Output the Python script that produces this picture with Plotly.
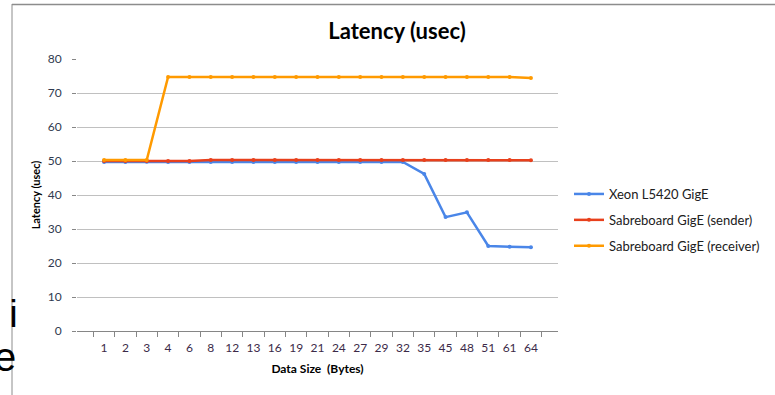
import plotly.graph_objects as go

categories = ["1", "2", "3", "4", "6", "8", "12", "13", "16", "19", "21", "24", "27", "29", "32", "35", "45", "48", "51", "61", "64"]
xeon = [49.7, 49.7, 49.8, 49.7, 49.7, 49.7, 49.7, 49.7, 49.7, 49.7, 49.7, 49.7, 49.7, 49.7, 49.7, 46.2, 33.5, 34.9, 25.0, 24.8, 24.6]
sender = [50.0, 50.0, 50.0, 50.0, 50.0, 50.3, 50.3, 50.3, 50.3, 50.3, 50.3, 50.3, 50.3, 50.3, 50.3, 50.3, 50.3, 50.3, 50.3, 50.3, 50.2]
receiver = [50.3, 50.3, 50.3, 74.7, 74.7, 74.7, 74.7, 74.7, 74.7, 74.7, 74.7, 74.7, 74.7, 74.7, 74.7, 74.7, 74.7, 74.7, 74.7, 74.7, 74.4]
names = ["Xeon L5420 GigE", "Sabreboard GigE (sender)", "Sabreboard GigE (receiver)"]
colors = ["#4a86e8", "#e8401c", "#ff9a00"]

W, H = 775, 395
L, R, T, B = 77, 558, 59, 331

def px(x):
    return (x - L) / (R - L)

def py(y):
    return (B - y) / (B - T)

fig = go.Figure()
for i, (vals, name, col) in enumerate(zip([xeon, sender, receiver], names, colors)):
    fig.add_trace(go.Scatter(
        x=categories, y=vals, name=name, mode="lines+markers",
        line=dict(color=col, width=2.5), marker=dict(color=col, size=4),
        legendgroup=str(i),
    ))

font = "Lato, 'Open Sans', sans-serif"
fig.update_layout(
    width=W, height=H,
    margin=dict(l=L, r=W - R, t=T, b=H - B, autoexpand=False),
    plot_bgcolor="white", paper_bgcolor="white",
    font=dict(family=font, size=12, color="#404040"),
    title=dict(text="<b>Latency (usec)</b>", x=397 / W, xanchor="center", xref="container",
               y=1 - 31 / H, yref="container", yanchor="middle",
               font=dict(size=22, color="#000000", family=font)),
    showlegend=True,
    legend=dict(x=px(569), y=py(179), xanchor="left", yanchor="top", xref="paper", yref="paper",
                font=dict(size=13, color="#202020", family=font), itemwidth=30,
                tracegroupgap=6, traceorder="grouped", bgcolor="rgba(0,0,0,0)"),
    xaxis=dict(type="category", tickson="boundaries", ticks="outside", ticklen=5,
               tickcolor="#868686", showline=True, linecolor="#868686", linewidth=1,
               showgrid=False, tickangle=0, automargin=False, ticklabelstandoff=6,
               tickfont=dict(size=12, color="#3c2a48"),
               title=dict(text="<b>Data Size  (Bytes)</b>", font=dict(size=12, color="#000000"), standoff=10)),
    yaxis=dict(range=[0, 80], dtick=10, ticks="outside", ticklen=4, tickcolor="#868686",
               showline=False, showgrid=True, gridcolor="#c0c0c0", gridwidth=1, zeroline=False,
               automargin=False, ticklabelstandoff=8, tickfont=dict(size=12, color="#303a50"),
               title=dict(text="<b>Latency (usec)</b>", font=dict(size=11, color="#000000"), standoff=4)),
)

# chart frame border (slide context)
fig.add_shape(type="line", xref="paper", yref="paper", x0=px(12), x1=px(12), y0=py(4), y1=py(395),
              line=dict(color="#8c8c8c", width=1))
fig.add_shape(type="line", xref="paper", yref="paper", x0=px(12), x1=px(775), y0=py(4.5), y1=py(4.5),
              line=dict(color="#8c8c8c", width=1.5))
# partially visible slide text behind chart
fig.add_annotation(text="r i", xref="paper", yref="paper", x=px(20), y=py(314), xanchor="right",
                   yanchor="middle", showarrow=False, font=dict(size=38, color="#000000", family="Liberation Sans, Arial"))
fig.add_annotation(text="e", xref="paper", yref="paper", x=px(18), y=py(357), xanchor="right",
                   yanchor="middle", showarrow=False, font=dict(size=40, color="#000000", family="Liberation Sans, Arial"))

fig.write_html("out.html", config={"displayModeBar": False},
               post_script="document.body.style.margin='0';document.body.style.overflow='hidden';")
